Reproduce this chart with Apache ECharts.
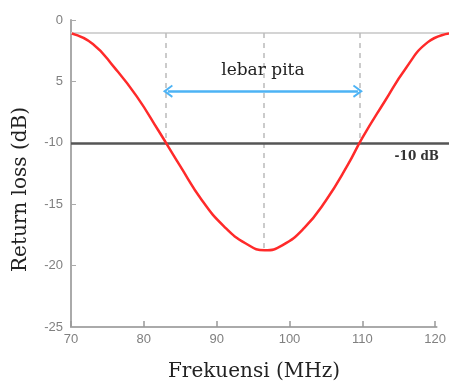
<!DOCTYPE html>
<html>
<head>
<meta charset="utf-8">
<script src="https://cdn.jsdelivr.net/npm/echarts@6/dist/echarts.min.js"></script>
<style>
  html, body { margin: 0; padding: 0; background: #fff; }
  #chart { width: 449px; height: 389px; }
</style>
</head>
<body>
<div id="chart"></div>
<script>
// frequency (MHz) and return loss (dB)
var freq = [70.1, 73.0, 76.0, 79.0, 82.0, 85.0, 88.0, 91.0, 94.0, 96.6,
            99.0, 102.0, 105.0, 108.0, 110.0, 113.0, 116.0, 119.0, 121.9];
var returnLoss = [-1.1, -1.95, -3.9, -6.2, -9.0, -11.9, -14.7, -16.8, -18.2, -18.75,
                  -18.35, -16.95, -14.7, -11.8, -9.6, -6.7, -3.9, -1.8, -1.1];
var xTicks = [70, 80, 90, 100, 110, 120];
var yTicks = [-25, -20, -15, -10, -5, 0];
var yTickLabels = ['-25', '-20', '-15', '-10', '5', '0'];
var bandLow = 83.0, bandHigh = 109.7, centre = 96.4, minLoss = -18.75;
var threshold = -10, arrowLevel = -5.8, topLevel = -1.06, rightEdge = 121.9;

var serif = '"DejaVu Serif", "Liberation Serif", serif';
var chart = echarts.init(document.getElementById('chart'));

var points = freq.map(function (f, i) { return [f, returnLoss[i]]; });
var chevron = 'path://M0,9 L6,0 L12,9 L10.5,10 L6,3.5 L1.5,10 Z';

chart.setOption({
  animation: false,
  grid: { left: 71, right: 0, top: 20, bottom: 62 },
  xAxis: {
    type: 'value', min: 70, max: rightEdge, interval: 10,
    axisLine: { show: true, onZero: false, lineStyle: { color: '#aaa', width: 2 } },
    axisTick: { show: true, inside: true, length: 6, lineStyle: { color: '#999', width: 1.5 } },
    axisLabel: { customValues: xTicks, color: '#808080', fontSize: 13, fontFamily: 'Arial', margin: 6 },
    splitLine: { show: false }
  },
  yAxis: {
    type: 'value', min: -25, max: 0, interval: 5,
    axisLine: { show: true, onZero: false, lineStyle: { color: '#aaa', width: 2 } },
    axisTick: { inside: true, length: 5, lineStyle: { color: '#aaa' } },
    axisLabel: {
      color: '#808080', fontSize: 13, fontFamily: 'Arial', margin: 8,
      formatter: function (v) { return yTickLabels[yTicks.indexOf(v)]; }
    },
    splitLine: { show: false }
  },
  graphic: [
    { type: 'text', x: 254, y: 362, z: 10,
      style: { text: 'Frekuensi (MHz)', font: '20px ' + serif, fill: '#222', textAlign: 'center' } },
    { type: 'text', x: 11, y: 272, rotation: Math.PI / 2, z: 10,
      style: { text: 'Return loss (dB)', font: '20px ' + serif, fill: '#222' } }
  ],
  series: [
    {
      type: 'line', data: points, smooth: 0.5, showSymbol: false, z: 5,
      lineStyle: { color: '#ff2a2a', width: 2.5 },
      markLine: {
        silent: true, symbol: ['none', 'none'],
        data: [
          [{ coord: [70, topLevel], lineStyle: { color: '#d4d4d4', width: 2, type: 'solid' } },
           { coord: [rightEdge, topLevel] }],
          // the axis line stops at 120 in the picture: mask the rest and the edge tick
          [{ coord: [120.3, -25], lineStyle: { color: '#fff', width: 12, type: 'solid' } },
           { coord: [rightEdge, -25] }],
          [{ coord: [bandLow, topLevel], lineStyle: { color: '#bbb', width: 1.5, type: [5, 5] } },
           { coord: [bandLow, threshold] }],
          [{ coord: [bandHigh, topLevel], lineStyle: { color: '#bbb', width: 1.5, type: [5, 5] } },
           { coord: [bandHigh, threshold] }],
          [{ coord: [centre, topLevel], lineStyle: { color: '#bbb', width: 1.5, type: [5, 5] } },
           { coord: [centre, minLoss] }],
          [{ coord: [70, threshold], lineStyle: { color: '#555', width: 2.5, type: 'solid' },
             label: { show: true, position: 'insideEndBottom', distance: [10, 8], formatter: '-10 dB',
                      color: '#333', fontSize: 12, fontWeight: 'bold', fontFamily: serif } },
           { coord: [rightEdge, threshold] }]
        ],
        label: { show: false }
      }
    },
    {
      type: 'line', data: [], z: 6,
      markLine: {
        silent: true,
        symbol: [chevron, chevron],
        symbolSize: [13, 10],
        data: [
          [{ coord: [bandLow + 0.3, arrowLevel],
             lineStyle: { color: '#4db3f5', width: 2.5, type: 'solid' },
             label: { show: true, position: 'insideMiddleTop', distance: 12, formatter: 'lebar pita',
                      color: '#222', fontSize: 17, fontFamily: serif } },
           { coord: [bandHigh - 0.3, arrowLevel] }]
        ]
      }
    }
  ]
});
</script>
</body>
</html>
